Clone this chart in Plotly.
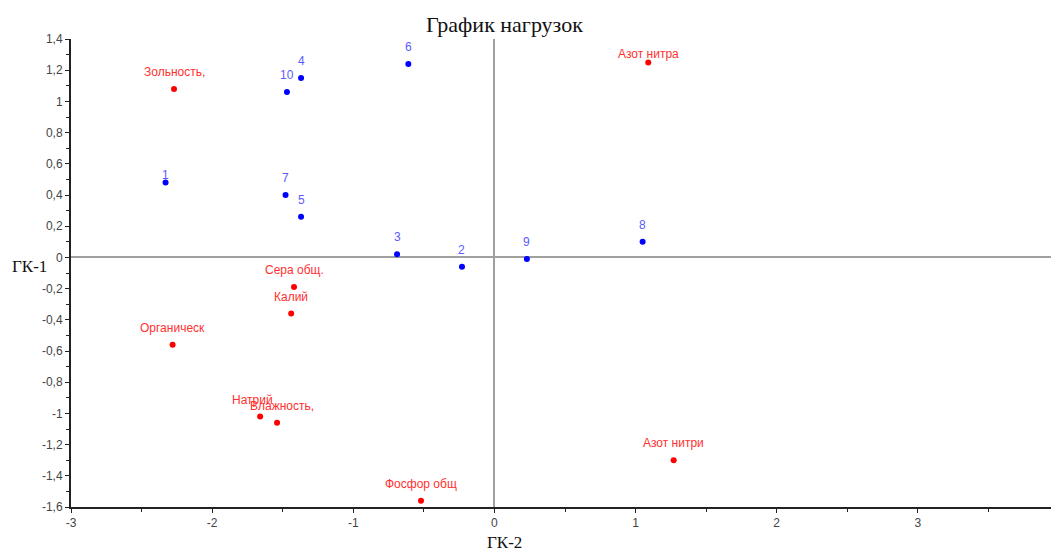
import plotly.graph_objects as go

# Observations (blue) and variables (red) on the first two components
obs_names = ["1", "2", "3", "4", "5", "6", "7", "8", "9", "10"]
obs_gk2 = [-2.33, -0.23, -0.69, -1.37, -1.37, -0.61, -1.48, 1.05, 0.23, -1.47]
obs_gk1 = [0.48, -0.06, 0.02, 1.15, 0.26, 1.24, 0.40, 0.10, -0.01, 1.06]

var_names = ["Зольность,", "Азот нитра", "Сера общ.", "Калий", "Органическ",
             "Натрий", "Влажность,", "Азот нитри", "Фосфор общ"]
var_gk2 = [-2.27, 1.09, -1.42, -1.44, -2.28, -1.66, -1.54, 1.27, -0.52]
var_gk1 = [1.08, 1.25, -0.19, -0.36, -0.56, -1.02, -1.06, -1.30, -1.56]

# tick labels, written with a plain hyphen like the original
x_ticks = [-3, -2, -1, 0, 1, 2, 3, 4]
x_ticklabels = ["-3", "-2", "-1", "0", "1", "2", "3", "4"]
y_ticks = [-1.6, -1.4, -1.2, -1.0, -0.8, -0.6, -0.4, -0.2, 0, 0.2, 0.4, 0.6, 0.8, 1.0, 1.2, 1.4]
y_ticklabels = ["-1,6", "-1,4", "-1,2", "-1", "-0,8", "-0,6", "-0,4", "-0,2", "0",
                "0,2", "0,4", "0,6", "0,8", "1", "1,2", "1,4"]

# labels sitting closer to their point than the rest
near_labels = {"1", "Азот нитра"}

fig = go.Figure()
fig.add_trace(go.Scatter(x=obs_gk2, y=obs_gk1, mode="markers",
                         marker=dict(color="#0000ff", size=6), hoverinfo="text",
                         text=obs_names))
fig.add_trace(go.Scatter(x=var_gk2, y=var_gk1, mode="markers",
                         marker=dict(color="#ff0000", size=6), hoverinfo="text",
                         text=var_names))

annotations = []
for names, xs, ys, col in [(obs_names, obs_gk2, obs_gk1, "#5a5aff"),
                           (var_names, var_gk2, var_gk1, "#ff3030")]:
    for n, x, y in zip(names, xs, ys):
        xshift = 0
        if n == "Натрий":
            xshift = -8
        elif n == "Влажность,":
            xshift = 5
        annotations.append(dict(x=x, y=y, text=n, showarrow=False,
                                yshift=8 if n in near_labels else 17,
                                xshift=xshift,
                                font=dict(family="Liberation Sans, Arial", size=12, color=col)))

serif = "Liberation Serif, Times New Roman"
annotations.append(dict(text="ГК-1", xref="paper", yref="paper", x=-0.0425, y=0.513,
                        showarrow=False, xanchor="center",
                        font=dict(family=serif, size=17, color="#111")))
annotations.append(dict(text="ГК-2", xref="paper", yref="paper", x=0.439, y=-0.075,
                        showarrow=False, yanchor="middle",
                        font=dict(family=serif, size=17, color="#111")))
annotations.append(dict(text="График нагрузок", xref="paper", yref="paper", x=0.439, y=1.032,
                        showarrow=False, yanchor="middle",
                        font=dict(family=serif, size=22, color="#111")))

# the page body adds an 8px offset, so the figure is made 8px smaller
fig.update_layout(
    width=1051, height=543,
    margin=dict(l=63, r=0, t=31, b=44, autoexpand=False),
    plot_bgcolor="white", paper_bgcolor="white",
    showlegend=False,
    annotations=annotations,
    font=dict(family="Liberation Sans, Arial", size=12, color="#444"),
)
fig.update_xaxes(range=[-3, 4], tickvals=x_ticks, ticktext=x_ticklabels, showgrid=False,
                 zeroline=True, zerolinecolor="#a0a0a0", zerolinewidth=2,
                 showline=True, linecolor="#222", linewidth=2,
                 ticks="outside", ticklen=4, tickcolor="#222",
                 minor=dict(dtick=0.5, ticks="outside", ticklen=3, tickcolor="#222"))
fig.update_yaxes(range=[-1.6, 1.4], tickvals=y_ticks, ticktext=y_ticklabels, showgrid=False,
                 zeroline=True, zerolinecolor="#a0a0a0", zerolinewidth=2,
                 showline=True, linecolor="#222", linewidth=2,
                 ticks="outside", ticklen=4, tickcolor="#222",
                 minor=dict(dtick=0.1, ticks="outside", ticklen=3, tickcolor="#222"))

fig.write_html("out.html")
